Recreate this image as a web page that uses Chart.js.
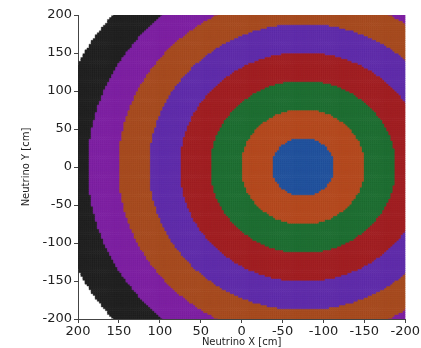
<!DOCTYPE html>
<html>
<head>
<meta charset="utf-8">
<script src="https://cdn.jsdelivr.net/npm/chart.js@4/dist/chart.umd.min.js"></script>
<style>
  html, body { margin: 0; padding: 0; background: #fff; }
  #wrap { width: 421px; height: 348px; }
</style>
</head>
<body>
<div id="wrap"><canvas id="ringChart" width="421" height="348"></canvas></div>
<script>
// ring centre (cm), outer radius of each ring (cm) and its colour
var ringCenter = [-75, 0];
var ringEdges = [37.5, 75, 112.5, 150, 187.5, 225, 262.5, 306];
var ringColors = ['#1f4e98', '#b0461c', '#1d6a30', '#9c1c20', '#5d2aa6', '#a2481d', '#7a1e9e', '#1e1e1e'];
var ringBorders = ['#2a5aa3', '#bb5428', '#27763a', '#a8282c', '#6836b0', '#ad5429', '#8529a8', '#2c2c2c'];
// sampling grid of the detector (cm)
var gridMin = -200;
var gridMax = 200;
var gridStep = 2.5;
var xTicks = [200, 150, 100, 50, 0, -50, -100, -150, -200];
var yTicks = [-200, -150, -100, -50, 0, 50, 100, 150, 200];

document.addEventListener('DOMContentLoaded', function () {
    var ctx = document.getElementById('ringChart').getContext('2d');

    var buckets = ringEdges.map(function () { return []; });
    for (var x = gridMin; x <= gridMax; x += gridStep) {
        for (var y = gridMin; y <= gridMax; y += gridStep) {
            var r = Math.hypot(x - ringCenter[0], y - ringCenter[1]);
            for (var i = 0; i < ringEdges.length; i++) {
                if (r < ringEdges[i]) { buckets[i].push({ x: x, y: y }); break; }
            }
        }
    }

    var datasets = buckets.map(function (pts, i) {
        return {
            label: 'ring ' + i,
            data: pts,
            pointStyle: 'rect',
            pointRadius: 1.8,
            borderWidth: 0.4,
            backgroundColor: ringColors[i],
            borderColor: ringBorders[i]
        };
    });

    var tickFont = { family: 'DejaVu Sans', size: 13 };
    var titleFont = { family: 'DejaVu Sans', size: 10 };

    new Chart(ctx, {
        type: 'scatter',
        data: { datasets: datasets },
        options: {
            responsive: false,
            animation: false,
            events: [],
            layout: { padding: { top: 15, right: 15, left: 20, bottom: 0 } },
            plugins: { legend: { display: false }, tooltip: { enabled: false } },
            scales: {
                x: {
                    type: 'linear',
                    reverse: true,
                    min: -200,
                    max: 200,
                    afterBuildTicks: function (s) { s.ticks = xTicks.map(function (v) { return { value: v }; }); },
                    afterFit: function (s) { s.height = 29; },
                    grid: { drawOnChartArea: false, tickLength: 4, color: '#444' },
                    border: { display: true, color: '#444', width: 1 },
                    ticks: { font: tickFont, color: '#222', padding: 1, maxRotation: 0, autoSkip: false },
                    title: { display: true, text: 'Neutrino X [cm]', font: titleFont, color: '#222', padding: { top: -3, bottom: 0 } }
                },
                y: {
                    type: 'linear',
                    min: -200,
                    max: 200,
                    afterBuildTicks: function (s) { s.ticks = yTicks.map(function (v) { return { value: v }; }); },
                    afterFit: function (s) { s.width = 58; },
                    grid: { drawOnChartArea: false, tickLength: 4, color: '#444' },
                    border: { display: true, color: '#444', width: 1 },
                    ticks: { font: tickFont, color: '#222', padding: 2, autoSkip: false },
                    title: { display: true, text: 'Neutrino Y [cm]', font: titleFont, color: '#222', padding: { top: 0, bottom: 4 } }
                }
            }
        }
    });
});
</script>
</body>
</html>
